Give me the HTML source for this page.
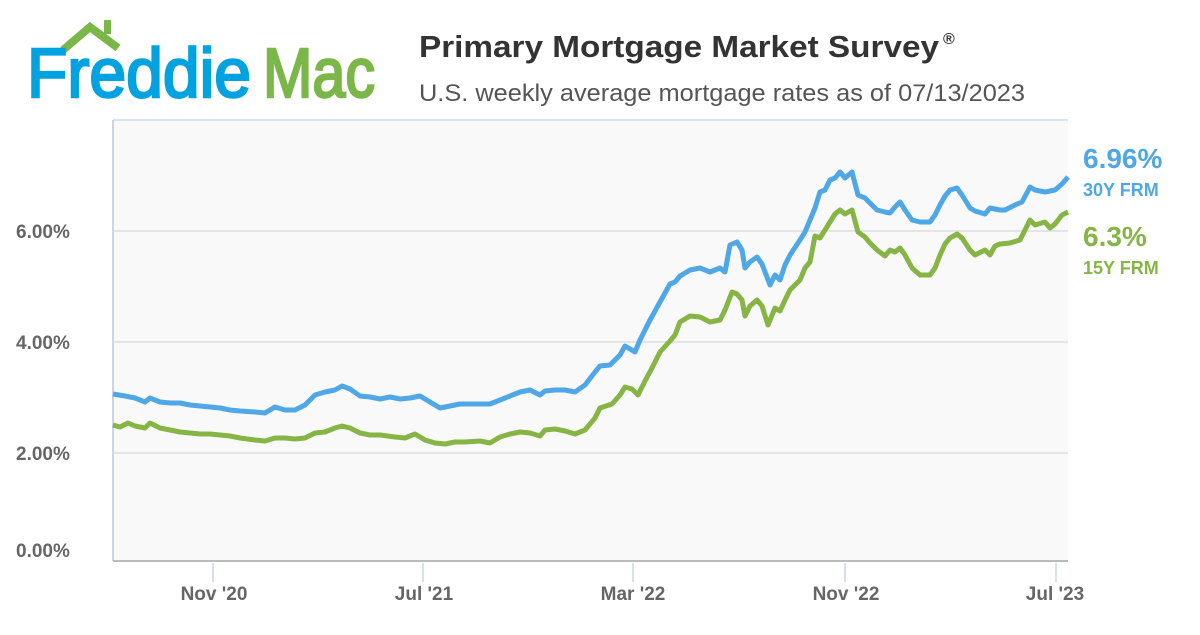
<!DOCTYPE html>
<html><head><meta charset="utf-8"><style>
body{margin:0;width:1200px;height:630px;background:#fff;overflow:hidden;font-family:"Liberation Sans",sans-serif}
</style></head><body>
<svg width="1200" height="630" xmlns="http://www.w3.org/2000/svg" font-family="Liberation Sans, sans-serif">
<!-- logo -->
<polyline points="63,50 90,27 118,48" fill="none" stroke="#7ab648" stroke-width="8"/>
<rect x="104" y="20" width="7" height="14" fill="#7ab648"/>
<text x="27" y="97" font-size="70" fill="#00a3e0" stroke="#00a3e0" stroke-width="2.5" textLength="224" lengthAdjust="spacingAndGlyphs">Freddie</text>
<text x="263" y="97" font-size="70" fill="#7ab648" stroke="#7ab648" stroke-width="2.5" textLength="112" lengthAdjust="spacingAndGlyphs">Mac</text>
<text x="419" y="57" font-size="31" font-weight="bold" fill="#333" textLength="520" lengthAdjust="spacingAndGlyphs">Primary Mortgage Market Survey</text>
<text x="943" y="44" font-size="16" font-weight="bold" fill="#333">®</text>
<text x="419" y="101" font-size="24" fill="#555" textLength="606" lengthAdjust="spacingAndGlyphs">U.S. weekly average mortgage rates as of 07/13/2023</text>
<!-- chart -->
<rect x="113" y="120" width="955" height="441" fill="#f9f9f9"/>
<line x1="113" y1="120" x2="1068" y2="120" stroke="#dde3ec" stroke-width="2"/>
<line x1="113" y1="120" x2="113" y2="561" stroke="#c9d5e8" stroke-width="2"/>
<g stroke="#ddd" stroke-width="1.5">
<line x1="113" y1="231" x2="1068" y2="231"/><line x1="113" y1="342" x2="1068" y2="342"/><line x1="113" y1="453" x2="1068" y2="453"/>
</g>
<line x1="113" y1="561" x2="1068" y2="561" stroke="#bbb" stroke-width="2"/>
<g stroke="#c9d5e8" stroke-width="1.5">
<line x1="213" y1="563" x2="213" y2="582"/><line x1="423" y1="563" x2="423" y2="582"/><line x1="633" y1="563" x2="633" y2="582"/><line x1="845" y1="563" x2="845" y2="582"/><line x1="1056" y1="563" x2="1056" y2="582"/>
</g>
<g font-size="19" font-weight="bold" fill="#666">
<text x="16" y="238">6.00%</text><text x="16" y="349">4.00%</text><text x="16" y="460">2.00%</text><text x="16" y="557">0.00%</text>
<g text-anchor="middle"><text x="214" y="600">Nov '20</text><text x="424" y="600">Jul '21</text><text x="633" y="600">Mar '22</text><text x="846" y="600">Nov '22</text><text x="1055" y="600">Jul '23</text></g>
</g>
<polyline fill="none" stroke="#4fa7e6" stroke-width="5" stroke-linejoin="round" points="113,394 125,396 135,398 145,402 150,398 160,402 170,403 180,403 190,405 200,406 210,407 220,408 230,410 240,411 255,412 265,413 275,407 285,410 295,410 305,405 315,395 325,392 335,390 342,386 350,389 360,396 370,397 380,399 390,397 400,399 410,398 420,396 430,402 440,408 450,406 460,404 470,404 480,404 490,404 500,400 510,396 520,392 530,390 540,395 545,391 555,390 565,390 575,392 585,385 595,372 600,366 610,365 620,355 625,346 635,352 640,340 650,320 660,302 670,284 675,282 680,276 690,270 700,268 710,272 720,268 725,272 730,245 737,242 742,250 745,268 750,262 757,257 762,264 770,285 775,275 780,280 785,265 790,255 800,240 805,232 810,220 815,208 820,192 825,190 830,180 835,178 840,172 845,178 852,172 858,195 865,198 870,203 877,210 885,212 890,213 895,207 900,202 905,210 912,220 920,222 930,222 935,215 940,205 945,196 950,190 957,188 962,195 970,208 975,211 985,214 990,208 1000,210 1005,210 1015,205 1022,202 1030,187 1035,190 1045,192 1055,190 1062,184 1068,177"/>
<polyline fill="none" stroke="#86b545" stroke-width="5" stroke-linejoin="round" points="113,425 120,427 128,423 135,426 145,428 150,423 160,428 170,430 180,432 190,433 200,434 210,434 220,435 230,436 240,438 255,440 265,441 275,438 285,438 295,439 305,438 315,433 325,432 335,428 342,426 350,428 360,433 370,435 380,435 395,437 405,438 415,434 425,440 435,443 445,444 455,442 465,442 480,441 490,443 500,437 510,434 520,432 530,433 540,436 545,430 555,429 565,431 575,434 585,430 595,418 600,408 612,404 620,395 625,387 632,389 638,395 645,381 652,368 660,352 670,341 675,335 680,322 690,316 700,317 710,322 720,320 725,310 732,292 737,294 742,300 745,316 750,306 757,300 762,306 768,325 775,308 780,311 785,300 790,290 800,280 805,268 810,262 815,236 820,238 825,230 830,222 835,214 840,210 845,214 852,210 858,232 865,237 870,243 877,250 885,256 890,250 895,252 900,248 905,255 912,268 920,275 930,275 935,268 940,255 945,244 950,238 957,234 962,238 970,250 975,255 985,250 990,255 995,246 1000,244 1010,243 1020,240 1025,230 1030,220 1035,225 1045,222 1050,228 1055,224 1062,215 1068,212"/>
<text x="1083" y="168" font-size="28" font-weight="bold" fill="#4fa7e6">6.96%</text>
<text x="1083" y="196" font-size="18" font-weight="bold" fill="#4fa7e6">30Y FRM</text>
<text x="1083" y="246" font-size="28" font-weight="bold" fill="#86b545">6.3%</text>
<text x="1083" y="274" font-size="18" font-weight="bold" fill="#86b545">15Y FRM</text>
</svg>
</body></html>
